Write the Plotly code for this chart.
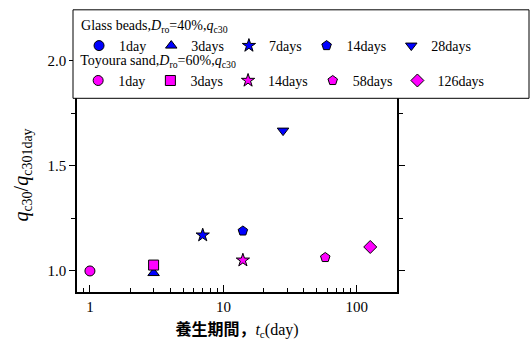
import plotly.graph_objects as go

# Glass beads, Dro=40%
gb_days = [1, 3, 7, 14, 28]
gb_vals = [None, 0.99, 1.17, 1.19, 1.667]
gb_names = ["1day", "3days", "7days", "14days", "28days"]
gb_symbols = ["circle", "triangle-up", "star", "pentagon", "triangle-down"]

# Toyoura sand, Dro=60%
ts_days = [1, 3, 14, 58, 126]
ts_vals = [1.0, 1.028, 1.051, 1.064, 1.114]
ts_names = ["1day", "3days", "14days", "58days", "126days"]
ts_symbols = ["circle", "square", "star", "pentagon", "diamond"]

BLUE = "#0000FF"
MAG = "#FF00FF"
SERIF = "Times New Roman, Liberation Serif, Tinos, DejaVu Serif, serif"

gb_title = "Glass beads,<i>D</i><sub>ro</sub>=40%,<i>q</i><sub>c30</sub>"
ts_title = "Toyoura sand,<i>D</i><sub>ro</sub>=60%,<i>q</i><sub>c30</sub>"

# plot area in pixels: left 77, right 397, top 54, bottom 292
PT, PB = 54, 292
PH = PB - PT


def py(pix):
    return (PB - pix) / PH


fig = go.Figure()


def msize(s):
    return 10


for d, v, n, s in zip(gb_days, gb_vals, gb_names, gb_symbols):
    fig.add_trace(go.Scatter(
        x=[d if v is not None else None], y=[v],
        mode="markers", name=n, legend="legend",
        marker=dict(symbol=s, color=BLUE, size=msize(s),
                    line=dict(color="black", width=1)),
    ))

for d, v, n, s in zip(ts_days, ts_vals, ts_names, ts_symbols):
    fig.add_trace(go.Scatter(
        x=[d], y=[v],
        mode="markers", name=n, legend="legend2",
        marker=dict(symbol=s, color=MAG, size=msize(s),
                    line=dict(color="black", width=1)),
    ))

leg_common = dict(
    orientation="h", xanchor="right", yanchor="top",
    bgcolor="rgba(0,0,0,0)", borderwidth=0,
    font=dict(family=SERIF, size=14, color="black"),
    itemwidth=30, tracegroupgap=0,
)

fig.update_layout(
    width=530, height=347,
    margin=dict(l=77, r=133, t=PT, b=347 - PB),
    paper_bgcolor="white", plot_bgcolor="white",
    font=dict(family=SERIF, size=15, color="black"),
    showlegend=True,
    legend=dict(leg_common, x=1.247, y=py(7),
                title=dict(text=gb_title, side="top", font=dict(family=SERIF, size=14))),
    legend2=dict(leg_common, x=1.288, y=py(42.5),
                 title=dict(text=ts_title, side="top", font=dict(family=SERIF, size=14))),
    shapes=[dict(type="rect", xref="paper", yref="paper",
                 x0=-0.0125, x1=1.4125, y0=py(95), y1=py(5),
                 fillcolor="white", line=dict(color="black", width=1), layer="above")],
    xaxis=dict(
        type="log", range=[-0.0969, 2.301],
        showline=True, linecolor="black", linewidth=1.5, mirror="ticks",
        ticks="inside", ticklen=7, tickcolor="black",
        tickvals=[1, 10, 100], ticktext=["1", "10", "100"],
        minor=dict(ticks="inside", ticklen=4, tickcolor="black",
                   tickvals=[0.8, 0.9, 2, 3, 4, 5, 6, 7, 8, 9, 20, 30, 40, 50, 60, 70, 80, 90, 200]),
        showgrid=False, zeroline=False,
        tickfont=dict(family=SERIF, size=15),
        title=dict(text="<span style='font-family:Noto Sans CJK JP'><b>養生期間，</b></span><i>t</i><sub>c</sub>(day)",
                   font=dict(family=SERIF, size=16), standoff=10),
    ),
    yaxis=dict(
        range=[0.9, 0.9 + PH / 214.0],
        showline=True, linecolor="black", linewidth=1.5, mirror="ticks",
        ticks="outside", ticklen=6, tickcolor="black",
        tickvals=[1.0, 1.5, 2.0], ticktext=["1.0", "1.5", "2.0"],
        minor=dict(ticks="outside", ticklen=4, tickcolor="black", tickvals=[1.25, 1.75]),
        showgrid=False, zeroline=False,
        tickfont=dict(family=SERIF, size=15),
        title=dict(text="<i>q</i><sub>c30</sub>/<i>q</i><sub>c301day</sub>",
                   font=dict(family=SERIF, size=20), standoff=14),
    ),
)

fig.write_html("out.html")
